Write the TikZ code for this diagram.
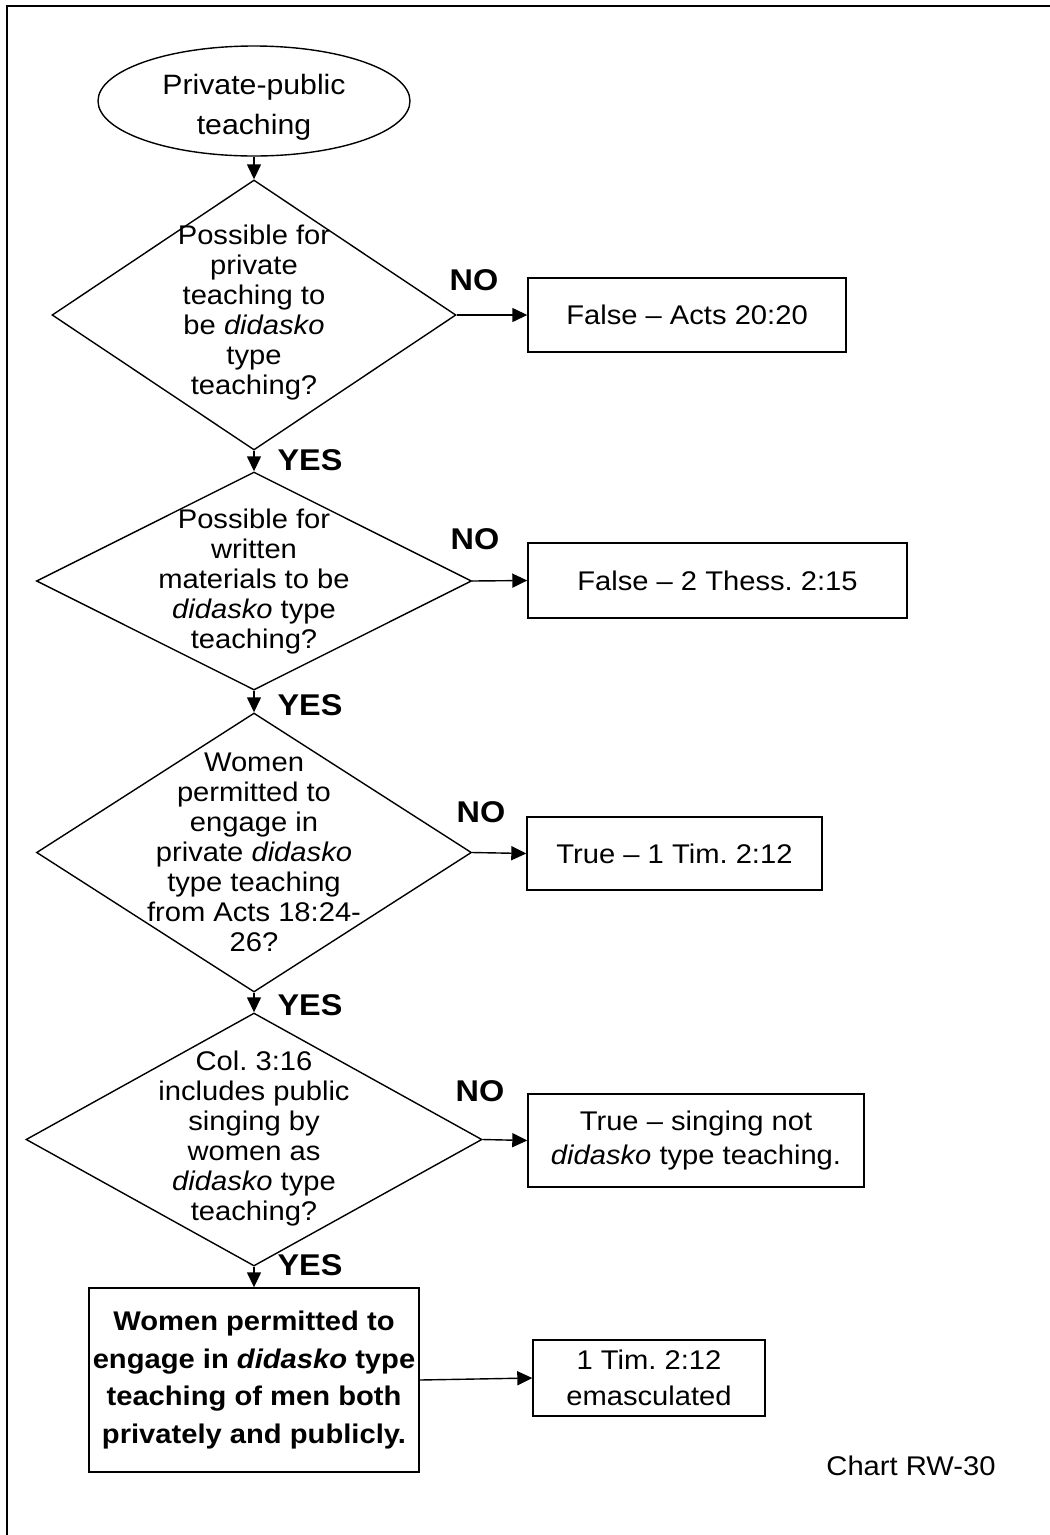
\documentclass[tikz,border=0pt]{standalone}
\usepackage{fontspec}
\setmainfont[FakeStretch=1.08]{Liberation Sans}
\usetikzlibrary{shapes.geometric,arrows.meta}
\frenchspacing
\tikzset{
  txt/.style={font=\fontsize{27}{30}\selectfont, align=center, inner sep=0pt},
  dia/.style={draw, diamond, inner sep=0pt, line width=1.4pt},
  boxnode/.style={draw, rectangle, inner sep=0pt, line width=1.4pt, align=center, font=\fontsize{27}{34}\selectfont},
  lbl/.style={font=\bfseries\fontsize{30}{34}\selectfont, inner sep=0pt},
  arr/.style={-{Triangle[length=15pt,width=14pt]}, line width=1.4pt}
}
\begin{document}
\frenchspacing
\begin{tikzpicture}[x=1pt,y=-1pt]
\useasboundingbox (0,0) rectangle (1050,1535);
% frame
\draw[line width=1.5pt] (7,1535) -- (7,6) -- (1050,6);

% start ellipse
\node[draw, ellipse, line width=1.4pt, minimum width=312pt, minimum height=110pt, inner sep=0pt] (ell) at (254,101) {};
\node[txt, font=\fontsize{28}{40}\selectfont] (ellt) at (254,107) {Private-public\\teaching};

% diamonds
\node[dia, minimum width=404pt, minimum height=270pt] (d1) at (254,315) {};
\node[txt] (d1t) at (254,313) {Possible for\\private\\teaching to\\be \textit{didasko}\\type\\teaching?};

\node[dia, minimum width=435pt, minimum height=218pt] (d2) at (254,581) {};
\node[txt] (d2t) at (254,582) {Possible for\\written\\materials to be\\\textit{didasko} type\\teaching?};

\node[dia, minimum width=435pt, minimum height=279pt] (d3) at (254,852.5) {};
\node[txt] (d3t) at (254,852) {Women\\permitted to\\engage in\\private \textit{didasko}\\type teaching\\from Acts 18:24-\\26?};

\node[dia, minimum width=456pt, minimum height=253pt] (d4) at (254,1139.5) {};
\node[txt] (d4t) at (254,1139) {Col. 3:16\\includes public\\singing by\\women as\\\textit{didasko} type\\teaching?};

% result boxes
\node[boxnode, minimum width=318pt, minimum height=74pt] (b1) at (687,315) {False -- Acts 20:20};
\node[boxnode, minimum width=379pt, minimum height=75pt] (b2) at (717.5,580.5) {False -- 2 Thess. 2:15};
\node[boxnode, minimum width=295pt, minimum height=73pt] (b3) at (674.5,853.5) {True -- 1 Tim. 2:12};
\node[boxnode, minimum width=336pt, minimum height=93pt] (b4) at (696,1140.5) {True -- singing not\\\textit{didasko} type teaching.};
\node[boxnode, minimum width=330pt, minimum height=184pt, font=\bfseries\fontsize{27}{37.7}\selectfont] (fin) at (254,1380) {Women permitted to\\engage in \textit{didasko} type\\teaching of men both\\privately and publicly.};
\node[boxnode, minimum width=232pt, minimum height=76pt, font=\fontsize{27}{36}\selectfont] (b5) at (649,1378) {1 Tim. 2:12\\emasculated};

% connectors
\draw[arr] (ell.south) -- (d1.north);
\draw[arr] (d1.south) -- (d2.north);
\draw[arr] (d2.south) -- (d3.north);
\draw[arr] (d3.south) -- (d4.north);
\draw[arr] (d4.south) -- (fin.north);
\draw[arr] (d1.east) -- (b1.west);
\draw[arr] (d2.east) -- (b2.west);
\draw[arr] (d3.east) -- (b3.west);
\draw[arr] (d4.east) -- (b4.west);
\draw[arr] (fin.east) -- (b5.west);

% labels
\node[lbl] (no1) at (474,280) {NO};
\node[lbl] (no2) at (475,539) {NO};
\node[lbl] (no3) at (481,812) {NO};
\node[lbl] (no4) at (480,1091) {NO};
\node[lbl] (yes1) at (310,460) {YES};
\node[lbl] (yes2) at (310,705) {YES};
\node[lbl] (yes3) at (310,1005) {YES};
\node[lbl] (yes4) at (310,1265) {YES};

\node[txt] (chart) at (911,1466) {Chart RW-30};
\end{tikzpicture}
\end{document}
